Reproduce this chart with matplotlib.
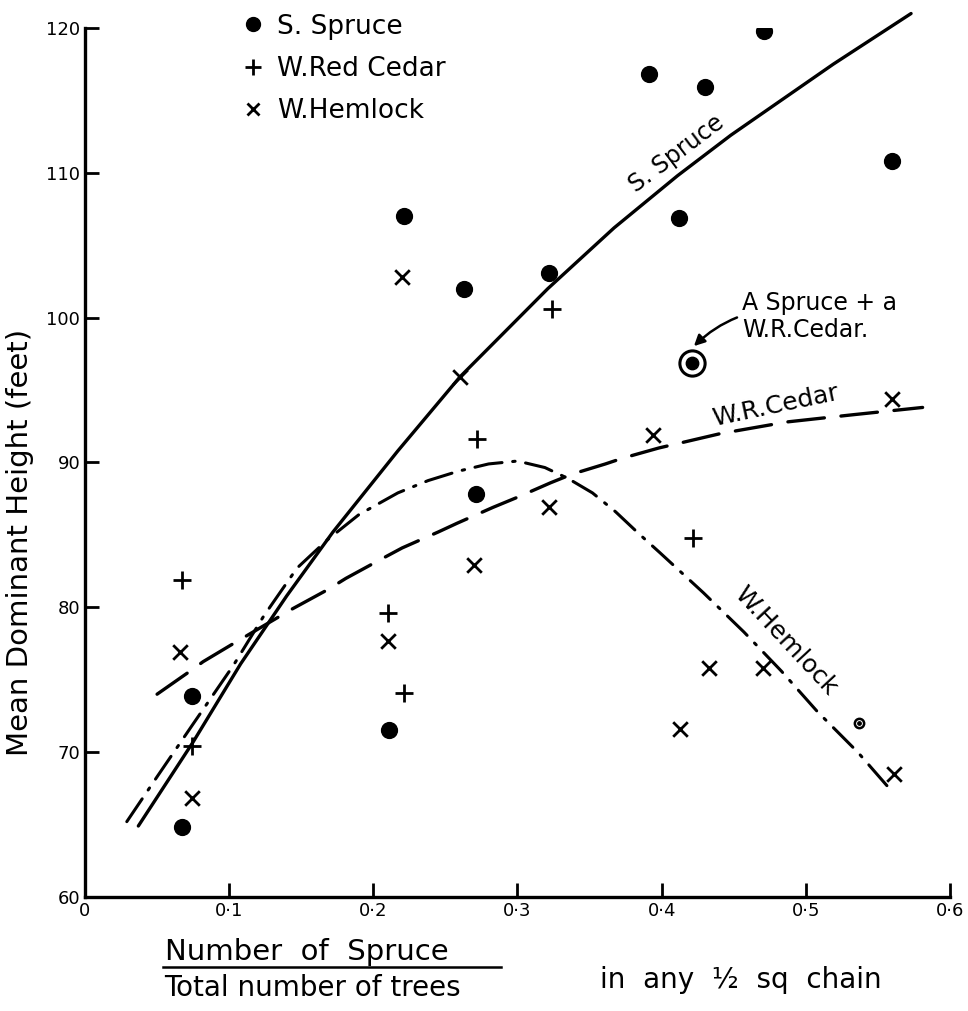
import numpy as np
import matplotlib.pyplot as plt
from matplotlib.lines import Line2D

# scatter data
spruce_x = [0.067, 0.074, 0.211, 0.221, 0.263, 0.271, 0.322, 0.391, 0.412, 0.430, 0.471, 0.560]
spruce_y = [64.8, 73.9, 71.5, 107.0, 102.0, 87.8, 103.1, 116.8, 106.9, 115.9, 119.8, 110.8]
spruce_small_x = [0.537]
spruce_small_y = [72.0]
mixed_x = [0.421]  # "A Spruce + a W.R.Cedar"
mixed_y = [96.9]

cedar_x = [0.067, 0.074, 0.210, 0.221, 0.272, 0.324, 0.422]
cedar_y = [81.9, 70.4, 79.6, 74.1, 91.6, 100.6, 84.8]

hemlock_x = [0.066, 0.074, 0.210, 0.220, 0.260, 0.270, 0.322, 0.394, 0.413, 0.433, 0.470, 0.560, 0.561]
hemlock_y = [76.9, 66.8, 77.7, 102.8, 95.9, 82.9, 86.9, 91.9, 71.6, 75.8, 75.8, 94.4, 68.5]

# hand drawn curves
spruce_cx = [0.037, 0.075, 0.108, 0.140, 0.172, 0.217, 0.260, 0.321, 0.367, 0.411, 0.448, 0.519, 0.573]
spruce_cy = [64.9, 70.7, 76.1, 80.8, 85.2, 90.8, 95.9, 102.0, 106.2, 109.8, 112.6, 117.5, 121.0]

cedar_cx = [0.050, 0.073, 0.082, 0.103, 0.144, 0.168, 0.181, 0.205, 0.220, 0.245, 0.258, 0.283,
            0.300, 0.323, 0.338, 0.361, 0.373, 0.398, 0.441, 0.487, 0.533, 0.581]
cedar_cy = [74.0, 75.6, 76.25, 77.5, 79.9, 81.2, 82.0, 83.3, 84.1, 85.2, 85.8, 86.9,
            87.6, 88.6, 89.2, 89.9, 90.3, 91.0, 92.0, 92.8, 93.3, 93.8]

hemlock_cx = [0.029, 0.050, 0.074, 0.103, 0.124, 0.147, 0.168, 0.190, 0.217, 0.238, 0.259, 0.280,
              0.300, 0.319, 0.335, 0.352, 0.368, 0.384, 0.399, 0.429, 0.457, 0.483, 0.508, 0.536, 0.557]
hemlock_cy = [65.2, 68.3, 71.8, 76.0, 79.4, 82.7, 84.65, 86.4, 87.9, 88.75, 89.4, 89.9,
              90.1, 89.65, 88.9, 87.9, 86.6, 85.1, 83.75, 81.0, 78.3, 75.6, 72.8, 70.0, 67.6]

xticks = [0, 0.1, 0.2, 0.3, 0.4, 0.5, 0.6]
xtick_labels = ['0', '0·1', '0·2', '0·3', '0·4', '0·5', '0·6']
yticks = [60, 70, 80, 90, 100, 110, 120]

plt.rcParams['font.family'] = ['DejaVu Sans']

fig = plt.figure(figsize=(9.68, 10.11), dpi=100)
ax = fig.add_axes([0.0878, 0.1128, 0.8936, 0.8595])

ax.plot(spruce_cx, spruce_cy, color='black', lw=2.4, clip_on=False, solid_capstyle='round')
ax.plot(cedar_cx, cedar_cy, color='black', lw=2.4, dashes=(11, 5), dash_capstyle='round')
ax.plot(hemlock_cx, hemlock_cy, color='black', lw=2.2, dashes=(9, 3.5, 0.8, 3.5), dash_capstyle='round')

ax.scatter(spruce_x, spruce_y, s=130, c='black', marker='o', zorder=3)
ax.scatter(spruce_small_x, spruce_small_y, s=45, facecolors='white', edgecolors='black', linewidths=1.8, zorder=3)
ax.scatter(spruce_small_x, spruce_small_y, s=6, c='black', zorder=4)
ax.scatter(mixed_x, mixed_y, s=330, facecolors='white', edgecolors='black', linewidths=2.2, zorder=3)
ax.scatter(mixed_x, mixed_y, s=80, c='black', zorder=4)
ax.scatter(cedar_x, cedar_y, s=170, c='black', marker='+', linewidths=2, zorder=3)
ax.scatter(hemlock_x, hemlock_y, s=110, c='black', marker='x', linewidths=2, zorder=3)

ax.set_xlim(0, 0.6)
ax.set_ylim(60, 120)
ax.set_xticks(xticks)
ax.set_xticklabels(xtick_labels)
ax.set_yticks(yticks)
ax.tick_params(direction='in', length=10, width=2, labelsize=13)
ax.spines['top'].set_visible(False)
ax.spines['right'].set_visible(False)
ax.spines['left'].set_linewidth(2.4)
ax.spines['bottom'].set_linewidth(2.4)

fig.text(20 / 968, 1 - 542 / 1011, 'Mean Dominant Height (feet)', fontsize=21,
         rotation=90, ha='center', va='center')

# curve labels
ax.text(0.410, 111.3, 'S. Spruce', fontsize=17, rotation=37, ha='center', va='center')
ax.text(0.479, 93.9, 'W.R.Cedar', fontsize=18, rotation=12, ha='center', va='center')
ax.text(0.486, 77.7, 'W.Hemlock', fontsize=18, rotation=-47, ha='center', va='center')
ax.annotate('A Spruce + a\nW.R.Cedar.', xy=(0.421, 97.9), xytext=(0.456, 100.1),
            fontsize=17, ha='left', va='center', linespacing=1.15,
            arrowprops=dict(arrowstyle='-|>', color='black', lw=1.8, mutation_scale=16,
                            connectionstyle='arc3,rad=0.3', shrinkA=2, shrinkB=2))

# legend
handles = [Line2D([], [], color='black', marker='o', ls='none', ms=10),
           Line2D([], [], color='black', marker='+', ls='none', ms=12, mew=2),
           Line2D([], [], color='black', marker='x', ls='none', ms=9, mew=2)]
fig.legend(handles, ['S. Spruce', 'W.Red Cedar', 'W.Hemlock'], loc='upper left',
           bbox_to_anchor=(0.24, 0.997), frameon=False, fontsize=19,
           handlelength=0.8, handletextpad=0.5, labelspacing=0.62, borderaxespad=0)

# x axis caption
fig.text(0.170, 1 - 960 / 1011, 'Number  of  Spruce', fontsize=21, ha='left', va='baseline')
fig.add_artist(Line2D([0.168, 0.518], [1 - 967 / 1011, 1 - 967 / 1011], color='black', lw=1.8))
fig.text(0.170, 1 - 996 / 1011, 'Total number of trees', fontsize=20, ha='left', va='baseline')
fig.text(0.62, 1 - 988 / 1011, 'in  any  ½  sq  chain', fontsize=20, ha='left', va='baseline')

plt.savefig('out.png', dpi=100)
